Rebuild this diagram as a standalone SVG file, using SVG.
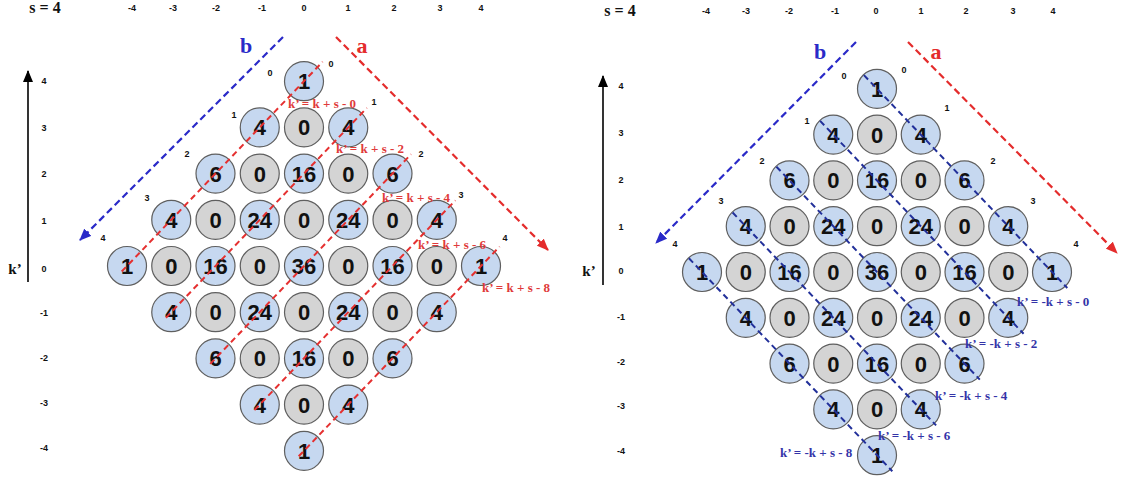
<svg xmlns="http://www.w3.org/2000/svg" width="1123" height="479" viewBox="0 0 1123 479">
<defs>
<style>
.bg{fill:#fff}
circle{stroke:#5f5f5f;stroke-width:1.2}
.b circle{fill:#c6d8f0}
.g circle{fill:#d4d4d4}
.n text{font-family:"Liberation Sans",Arial,sans-serif;font-weight:bold;font-size:22px;text-anchor:middle;fill:#111}
.sm{font-family:"Liberation Sans",Arial,sans-serif;font-weight:bold;font-size:9px;text-anchor:middle;fill:#111}
.ser{font-family:"Liberation Serif","Times New Roman",serif;font-weight:bold}
.hd{font-size:16px;fill:#111}
.kp{font-size:15px;fill:#111;text-anchor:middle}
.la{font-size:22px;text-anchor:middle}
.red{fill:#e42c2c}
.blu{fill:#2a2ac8}
.rl{font-size:13px;fill:#e03a3a}
.bl{font-size:13px;fill:#3434a8}
.dr{stroke:#e53030;stroke-width:2;stroke-dasharray:6 4;fill:none}
.db{stroke:#22309a;stroke-width:2;stroke-dasharray:6 4;fill:none}
.ar{stroke:#e42c2c;stroke-width:2.2;stroke-dasharray:7 4;fill:none}
.ab{stroke:#2a2ac8;stroke-width:2.2;stroke-dasharray:7 4;fill:none}
.ax{stroke:#000;stroke-width:1.6;fill:none}
</style>
<marker id="mr" viewBox="0 0 12 10" refX="11" refY="5" markerWidth="12" markerHeight="10" markerUnits="userSpaceOnUse" orient="auto"><path d="M0,0 L12,5 L0,10 z" fill="#e42c2c"/></marker>
<marker id="mb" viewBox="0 0 12 10" refX="11" refY="5" markerWidth="12" markerHeight="10" markerUnits="userSpaceOnUse" orient="auto"><path d="M0,0 L12,5 L0,10 z" fill="#2a2ac8"/></marker>
<marker id="mk" viewBox="0 0 12 10" refX="11" refY="5" markerWidth="14" markerHeight="10" markerUnits="userSpaceOnUse" orient="auto"><path d="M0,0 L12,5 L0,10 z" fill="#000"/></marker>
</defs>
<rect class="bg" x="0" y="0" width="1123" height="479"/>

<!-- LEFT PANEL: headers and axis -->
<g id="left-axes">
<text class="ser hd" x="45" y="13" text-anchor="middle">s = 4</text>
<text class="sm" x="132" y="11">-4</text><text class="sm" x="173" y="11">-3</text><text class="sm" x="216" y="11">-2</text><text class="sm" x="262" y="11">-1</text><text class="sm" x="304" y="11">0</text><text class="sm" x="348" y="11">1</text><text class="sm" x="394" y="11">2</text><text class="sm" x="440" y="11">3</text><text class="sm" x="481" y="11">4</text>
<line class="ax" x1="28" y1="282" x2="28" y2="71" marker-end="url(#mk)"/>
<text class="ser kp" x="15" y="274">k’</text>
<text class="sm" x="44" y="84">4</text><text class="sm" x="44" y="131">3</text><text class="sm" x="44" y="177">2</text><text class="sm" x="44" y="224">1</text><text class="sm" x="44" y="272">0</text><text class="sm" x="44" y="316">-1</text><text class="sm" x="44" y="361">-2</text><text class="sm" x="44" y="406">-3</text><text class="sm" x="44" y="451">-4</text>
<text class="sm" x="270" y="76">0</text><text class="sm" x="234" y="118">1</text><text class="sm" x="187" y="157">2</text><text class="sm" x="147" y="201">3</text><text class="sm" x="103" y="241">4</text>
<text class="sm" x="331" y="67">0</text><text class="sm" x="374" y="105">1</text><text class="sm" x="421" y="157">2</text><text class="sm" x="461" y="198">3</text><text class="sm" x="505" y="241">4</text>
<text class="ser la blu" x="246" y="53">b</text>
<text class="ser la red" x="362" y="53">a</text>
</g>

<!-- LEFT PANEL nodes -->
<g id="L-4" class="n b" transform="translate(304,81.2)"><circle r="19.5"/><text y="8">1</text></g>
<g id="L-3a" class="n b" transform="translate(259.75,127.4)"><circle r="19.5"/><text y="8">4</text></g>
<g id="L-3b" class="n g" transform="translate(304,127.4)"><circle r="19.5"/><text y="8">0</text></g>
<g id="L-3c" class="n b" transform="translate(348.25,127.4)"><circle r="19.5"/><text y="8">4</text></g>
<g id="L-2a" class="n b" transform="translate(215.5,173.6)"><circle r="19.5"/><text y="8">6</text></g>
<g id="L-2b" class="n g" transform="translate(259.75,173.6)"><circle r="19.5"/><text y="8">0</text></g>
<g id="L-2c" class="n b" transform="translate(304,173.6)"><circle r="19.5"/><text y="8">16</text></g>
<g id="L-2d" class="n g" transform="translate(348.25,173.6)"><circle r="19.5"/><text y="8">0</text></g>
<g id="L-2e" class="n b" transform="translate(392.5,173.6)"><circle r="19.5"/><text y="8">6</text></g>
<g id="L-1a" class="n b" transform="translate(171.25,219.8)"><circle r="19.5"/><text y="8">4</text></g>
<g id="L-1b" class="n g" transform="translate(215.5,219.8)"><circle r="19.5"/><text y="8">0</text></g>
<g id="L-1c" class="n b" transform="translate(259.75,219.8)"><circle r="19.5"/><text y="8">24</text></g>
<g id="L-1d" class="n g" transform="translate(304,219.8)"><circle r="19.5"/><text y="8">0</text></g>
<g id="L-1e" class="n b" transform="translate(348.25,219.8)"><circle r="19.5"/><text y="8">24</text></g>
<g id="L-1f" class="n g" transform="translate(392.5,219.8)"><circle r="19.5"/><text y="8">0</text></g>
<g id="L-1g" class="n b" transform="translate(436.75,219.8)"><circle r="19.5"/><text y="8">4</text></g>
<g id="L0a" class="n b" transform="translate(127,266)"><circle r="19.5"/><text y="8">1</text></g>
<g id="L0b" class="n g" transform="translate(171.25,266)"><circle r="19.5"/><text y="8">0</text></g>
<g id="L0c" class="n b" transform="translate(215.5,266)"><circle r="19.5"/><text y="8">16</text></g>
<g id="L0d" class="n g" transform="translate(259.75,266)"><circle r="19.5"/><text y="8">0</text></g>
<g id="L0e" class="n b" transform="translate(304,266)"><circle r="19.5"/><text y="8">36</text></g>
<g id="L0f" class="n g" transform="translate(348.25,266)"><circle r="19.5"/><text y="8">0</text></g>
<g id="L0g" class="n b" transform="translate(392.5,266)"><circle r="19.5"/><text y="8">16</text></g>
<g id="L0h" class="n g" transform="translate(436.75,266)"><circle r="19.5"/><text y="8">0</text></g>
<g id="L0i" class="n b" transform="translate(481,266)"><circle r="19.5"/><text y="8">1</text></g>
<g id="Lm1a" class="n b" transform="translate(171.25,312.2)"><circle r="19.5"/><text y="8">4</text></g>
<g id="Lm1b" class="n g" transform="translate(215.5,312.2)"><circle r="19.5"/><text y="8">0</text></g>
<g id="Lm1c" class="n b" transform="translate(259.75,312.2)"><circle r="19.5"/><text y="8">24</text></g>
<g id="Lm1d" class="n g" transform="translate(304,312.2)"><circle r="19.5"/><text y="8">0</text></g>
<g id="Lm1e" class="n b" transform="translate(348.25,312.2)"><circle r="19.5"/><text y="8">24</text></g>
<g id="Lm1f" class="n g" transform="translate(392.5,312.2)"><circle r="19.5"/><text y="8">0</text></g>
<g id="Lm1g" class="n b" transform="translate(436.75,312.2)"><circle r="19.5"/><text y="8">4</text></g>
<g id="Lm2a" class="n b" transform="translate(215.5,358.4)"><circle r="19.5"/><text y="8">6</text></g>
<g id="Lm2b" class="n g" transform="translate(259.75,358.4)"><circle r="19.5"/><text y="8">0</text></g>
<g id="Lm2c" class="n b" transform="translate(304,358.4)"><circle r="19.5"/><text y="8">16</text></g>
<g id="Lm2d" class="n g" transform="translate(348.25,358.4)"><circle r="19.5"/><text y="8">0</text></g>
<g id="Lm2e" class="n b" transform="translate(392.5,358.4)"><circle r="19.5"/><text y="8">6</text></g>
<g id="Lm3a" class="n b" transform="translate(259.75,404.6)"><circle r="19.5"/><text y="8">4</text></g>
<g id="Lm3b" class="n g" transform="translate(304,404.6)"><circle r="19.5"/><text y="8">0</text></g>
<g id="Lm3c" class="n b" transform="translate(348.25,404.6)"><circle r="19.5"/><text y="8">4</text></g>
<g id="Lm4" class="n b" transform="translate(304,450.8)"><circle r="19.5"/><text y="8">1</text></g>

<!-- RIGHT PANEL: headers and axis -->
<g id="right-axes">
<text class="ser hd" x="620" y="16" text-anchor="middle">s = 4</text>
<text class="sm" x="706" y="14">-4</text><text class="sm" x="746" y="14">-3</text><text class="sm" x="789" y="14">-2</text><text class="sm" x="835" y="14">-1</text><text class="sm" x="876" y="14">0</text><text class="sm" x="921" y="14">1</text><text class="sm" x="966" y="14">2</text><text class="sm" x="1013" y="14">3</text><text class="sm" x="1053" y="14">4</text>
<line class="ax" x1="603" y1="285" x2="603" y2="76" marker-end="url(#mk)"/>
<text class="ser kp" x="589" y="276">k’</text>
<text class="sm" x="621" y="89">4</text><text class="sm" x="621" y="136">3</text><text class="sm" x="621" y="183">2</text><text class="sm" x="621" y="230">1</text><text class="sm" x="621" y="274">0</text><text class="sm" x="621" y="320">-1</text><text class="sm" x="621" y="365">-2</text><text class="sm" x="621" y="409">-3</text><text class="sm" x="621" y="454">-4</text>
<text class="sm" x="844" y="79">0</text><text class="sm" x="807" y="124">1</text><text class="sm" x="762" y="164">2</text><text class="sm" x="721" y="204">3</text><text class="sm" x="675" y="247">4</text>
<text class="sm" x="904" y="73">0</text><text class="sm" x="947" y="111">1</text><text class="sm" x="993" y="164">2</text><text class="sm" x="1033" y="204">3</text><text class="sm" x="1076" y="247">4</text>
<text class="ser la blu" x="820" y="59">b</text>
<text class="ser la red" x="936" y="59">a</text>
</g>

<!-- RIGHT PANEL nodes -->
<g id="R4" class="n b" transform="translate(877,88.8)"><circle r="19.5"/><text y="8">1</text></g>
<g id="R3a" class="n b" transform="translate(833.25,134.6)"><circle r="19.5"/><text y="8">4</text></g>
<g id="R3b" class="n g" transform="translate(877,134.6)"><circle r="19.5"/><text y="8">0</text></g>
<g id="R3c" class="n b" transform="translate(920.75,134.6)"><circle r="19.5"/><text y="8">4</text></g>
<g id="R2a" class="n b" transform="translate(789.5,180.4)"><circle r="19.5"/><text y="8">6</text></g>
<g id="R2b" class="n g" transform="translate(833.25,180.4)"><circle r="19.5"/><text y="8">0</text></g>
<g id="R2c" class="n b" transform="translate(877,180.4)"><circle r="19.5"/><text y="8">16</text></g>
<g id="R2d" class="n g" transform="translate(920.75,180.4)"><circle r="19.5"/><text y="8">0</text></g>
<g id="R2e" class="n b" transform="translate(964.5,180.4)"><circle r="19.5"/><text y="8">6</text></g>
<g id="R1a" class="n b" transform="translate(745.75,226.2)"><circle r="19.5"/><text y="8">4</text></g>
<g id="R1b" class="n g" transform="translate(789.5,226.2)"><circle r="19.5"/><text y="8">0</text></g>
<g id="R1c" class="n b" transform="translate(833.25,226.2)"><circle r="19.5"/><text y="8">24</text></g>
<g id="R1d" class="n g" transform="translate(877,226.2)"><circle r="19.5"/><text y="8">0</text></g>
<g id="R1e" class="n b" transform="translate(920.75,226.2)"><circle r="19.5"/><text y="8">24</text></g>
<g id="R1f" class="n g" transform="translate(964.5,226.2)"><circle r="19.5"/><text y="8">0</text></g>
<g id="R1g" class="n b" transform="translate(1008.25,226.2)"><circle r="19.5"/><text y="8">4</text></g>
<g id="R0a" class="n b" transform="translate(702,272)"><circle r="19.5"/><text y="8">1</text></g>
<g id="R0b" class="n g" transform="translate(745.75,272)"><circle r="19.5"/><text y="8">0</text></g>
<g id="R0c" class="n b" transform="translate(789.5,272)"><circle r="19.5"/><text y="8">16</text></g>
<g id="R0d" class="n g" transform="translate(833.25,272)"><circle r="19.5"/><text y="8">0</text></g>
<g id="R0e" class="n b" transform="translate(877,272)"><circle r="19.5"/><text y="8">36</text></g>
<g id="R0f" class="n g" transform="translate(920.75,272)"><circle r="19.5"/><text y="8">0</text></g>
<g id="R0g" class="n b" transform="translate(964.5,272)"><circle r="19.5"/><text y="8">16</text></g>
<g id="R0h" class="n g" transform="translate(1008.25,272)"><circle r="19.5"/><text y="8">0</text></g>
<g id="R0i" class="n b" transform="translate(1052,272)"><circle r="19.5"/><text y="8">1</text></g>
<g id="Rm1a" class="n b" transform="translate(745.75,317.8)"><circle r="19.5"/><text y="8">4</text></g>
<g id="Rm1b" class="n g" transform="translate(789.5,317.8)"><circle r="19.5"/><text y="8">0</text></g>
<g id="Rm1c" class="n b" transform="translate(833.25,317.8)"><circle r="19.5"/><text y="8">24</text></g>
<g id="Rm1d" class="n g" transform="translate(877,317.8)"><circle r="19.5"/><text y="8">0</text></g>
<g id="Rm1e" class="n b" transform="translate(920.75,317.8)"><circle r="19.5"/><text y="8">24</text></g>
<g id="Rm1f" class="n g" transform="translate(964.5,317.8)"><circle r="19.5"/><text y="8">0</text></g>
<g id="Rm1g" class="n b" transform="translate(1008.25,317.8)"><circle r="19.5"/><text y="8">4</text></g>
<g id="Rm2a" class="n b" transform="translate(789.5,363.6)"><circle r="19.5"/><text y="8">6</text></g>
<g id="Rm2b" class="n g" transform="translate(833.25,363.6)"><circle r="19.5"/><text y="8">0</text></g>
<g id="Rm2c" class="n b" transform="translate(877,363.6)"><circle r="19.5"/><text y="8">16</text></g>
<g id="Rm2d" class="n g" transform="translate(920.75,363.6)"><circle r="19.5"/><text y="8">0</text></g>
<g id="Rm2e" class="n b" transform="translate(964.5,363.6)"><circle r="19.5"/><text y="8">6</text></g>
<g id="Rm3a" class="n b" transform="translate(833.25,409.4)"><circle r="19.5"/><text y="8">4</text></g>
<g id="Rm3b" class="n g" transform="translate(877,409.4)"><circle r="19.5"/><text y="8">0</text></g>
<g id="Rm3c" class="n b" transform="translate(920.75,409.4)"><circle r="19.5"/><text y="8">4</text></g>
<g id="Rm4" class="n b" transform="translate(877,455.2)"><circle r="19.5"/><text y="8">1</text></g>

<!-- connectors -->
<g id="connectors">
<line class="ab" x1="283" y1="37" x2="80" y2="240" marker-end="url(#mb)"/>
<line class="ar" x1="336" y1="37" x2="548" y2="250" marker-end="url(#mr)"/>
<line class="ab" x1="856" y1="42" x2="656" y2="243" marker-end="url(#mb)"/>
<line class="ar" x1="908" y1="42" x2="1117" y2="253" marker-end="url(#mr)"/>
<line class="dr" x1="121.7" y1="271.5" x2="322.6" y2="61.8"/>
<line class="dr" x1="165.95" y1="317.7" x2="366.85" y2="108"/>
<line class="dr" x1="210.2" y1="363.9" x2="411.1" y2="154.2"/>
<line class="dr" x1="254.45" y1="410.1" x2="455.35" y2="200.4"/>
<line class="dr" x1="298.7" y1="456.3" x2="499.6" y2="246.6"/>
<line class="db" x1="863.9" y1="75.1" x2="1067.3" y2="288"/>
<line class="db" x1="820.1" y1="120.9" x2="1023.6" y2="333.8"/>
<line class="db" x1="776.4" y1="166.7" x2="979.8" y2="379.6"/>
<line class="db" x1="732.6" y1="212.5" x2="936.1" y2="425.4"/>
<line class="db" x1="688.9" y1="258.3" x2="892.3" y2="471.2"/>
</g>

<g id="line-labels">
<text class="ser rl" x="288" y="108">k’ = k + s - 0</text>
<text class="ser rl" x="336" y="153">k’ = k + s - 2</text>
<text class="ser rl" x="382" y="202">k’ = k + s - 4</text>
<text class="ser rl" x="418" y="249">k’ = k + s - 6</text>
<text class="ser rl" x="482" y="292">k’ = k + s - 8</text>
<text class="ser bl" x="1017" y="306">k’ = -k + s - 0</text>
<text class="ser bl" x="965" y="348">k’ = -k + s - 2</text>
<text class="ser bl" x="935" y="400">k’ = -k + s - 4</text>
<text class="ser bl" x="878" y="440">k’ = -k + s - 6</text>
<text class="ser bl" x="780" y="457">k’ = -k + s - 8</text>
</g>
</svg>
